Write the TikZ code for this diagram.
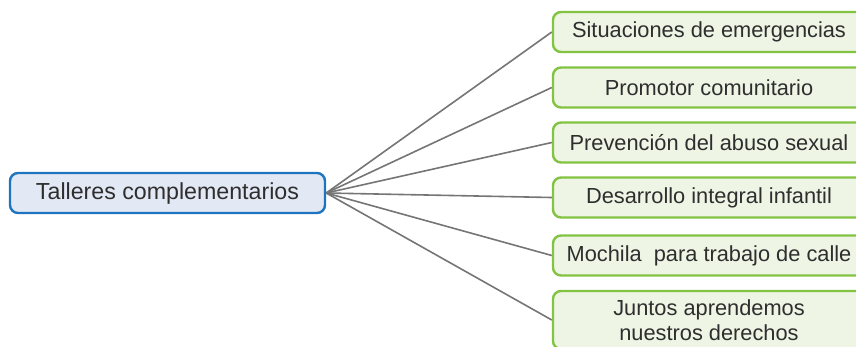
\documentclass[tikz,border=0pt]{standalone}
\usepackage{fontspec}
\setmainfont{Liberation Sans}
\usetikzlibrary{backgrounds}
\definecolor{txt}{HTML}{2E2E2E}
\definecolor{bluebd}{HTML}{1F74BF}
\definecolor{bluefill}{HTML}{E3E8F5}
\definecolor{greenbd}{HTML}{82C341}
\definecolor{greenfill}{HTML}{EEF5E5}
\definecolor{linegray}{HTML}{757575}
\tikzset{
  rootbox/.style={draw=bluebd, fill=bluefill, line width=2.4pt, rounded corners=8pt,
    minimum width=315pt, minimum height=40pt, inner sep=0pt, text=txt,
    font=\fontsize{23.2}{27}\selectfont},
  leafbox/.style={draw=greenbd, fill=greenfill, line width=2.4pt, rounded corners=8pt,
    minimum width=312pt, minimum height=40pt, inner sep=0pt, text=txt, align=center,
    font=\fontsize{21.8}{27}\selectfont},
  link/.style={draw=linegray, line width=1.6pt}
}
\begin{document}
\begin{tikzpicture}[x=1pt,y=-1pt]
\useasboundingbox (0,0) rectangle (856,346);
\clip (0,0) rectangle (856,346);
\node[rootbox] (root) at (167.5,193) {Talleres complementarios};
\node[leafbox] (a) at (709,32) {Situaciones de emergencias};
\node[leafbox] (b) at (709,87.5) {Promotor comunitario};
\node[leafbox] (c) at (709,142.5) {Prevención del abuso sexual};
\node[leafbox] (d) at (709,197.5) {Desarrollo integral infantil};
\node[leafbox] (e) at (709,255.5) {Mochila\ \ para trabajo de calle};
\node[leafbox, minimum height=58pt] (f) at (709,320) {Juntos aprendemos\\[-2pt]nuestros derechos};
\begin{scope}[on background layer]
\foreach \t in {a,b,c,d,e,f}{
  \draw[link] (root.east) -- (\t.west);
}
\end{scope}
\end{tikzpicture}
\end{document}
